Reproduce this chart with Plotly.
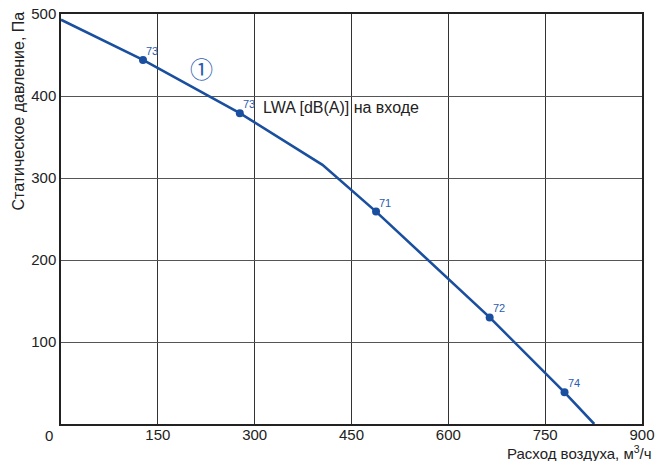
import plotly.graph_objects as go

# Curve vertices (airflow m3/h, static pressure Pa)
curve_x = [0, 127, 277, 405, 488, 664, 780, 826]
curve_y = [493, 444, 379, 316, 259, 130, 38.6, 0]

# Marked operating points with LWA labels
pt_x = [127, 277, 488, 664, 780]
pt_y = [444, 379, 259, 130, 38.6]
pt_lbl = ["73", "73", "71", "72", "74"]

x_ticks = [150, 300, 450, 600, 750, 900]
y_ticks = [100, 200, 300, 400, 500]

BLUE = "#1a4f9f"
FONT = "Liberation Sans, Arial, sans-serif"

fig = go.Figure()
fig.add_trace(go.Scatter(x=curve_x, y=curve_y, mode="lines",
                         line=dict(color=BLUE, width=2.6), hoverinfo="skip"))
fig.add_trace(go.Scatter(x=pt_x, y=pt_y, mode="markers",
                         marker=dict(color=BLUE, size=8),
                         hoverinfo="skip"))

annos = [
    dict(x=0, y=0, xref="paper", yref="paper", text="0", showarrow=False,
         xanchor="right", yanchor="top", xshift=-6, yshift=-1,
         font=dict(size=15, family=FONT, color="#222")),
    dict(x=1, y=0, xref="paper", yref="paper", text="Расход воздуха, м<sup>3</sup>/ч",
         showarrow=False, xanchor="right", yanchor="top", xshift=12, yshift=-17,
         font=dict(size=15, family=FONT, color="#222")),
    dict(x=0, y=1, xref="paper", yref="paper", text="Статическое давление, Па",
         showarrow=False, textangle=-90, xanchor="center", yanchor="top",
         xshift=-43, yshift=4,
         font=dict(size=16, family=FONT, color="#222")),
    dict(x=310, y=386, xref="x", yref="y", text="LWA [dB(A)] на входе",
         showarrow=False, xanchor="left", yanchor="middle",
         font=dict(size=16, family=FONT, color="#222")),
    dict(x=218, y=434, xref="x", yref="y", text="①",
         showarrow=False, xanchor="center", yanchor="middle",
         font=dict(size=23, family="Noto Sans CJK JP", color="#2a5db0")),
]
for px, py, lb in zip(pt_x, pt_y, pt_lbl):
    annos.append(dict(x=px, y=py, xref="x", yref="y", text=lb, showarrow=False,
                      xanchor="left", yanchor="bottom", xshift=1, yshift=1,
                      font=dict(size=11, family=FONT, color="#2a5db0")))

fig.update_layout(
    width=657, height=461,
    margin=dict(l=61, r=15, t=14, b=37),
    plot_bgcolor="white", paper_bgcolor="white",
    showlegend=False,
    font=dict(family=FONT, size=15, color="#222"),
    xaxis=dict(range=[0, 900], tickvals=x_ticks, ticktext=[str(v) for v in x_ticks],
               showgrid=True, gridcolor="#333", gridwidth=1,
               showline=True, linecolor="#222", linewidth=1.5, mirror=True,
               ticks="", zeroline=False, fixedrange=True, automargin=False,
               ticklabelstandoff=-4),
    yaxis=dict(range=[0, 500], tickvals=y_ticks, ticktext=[str(v) for v in y_ticks],
               showgrid=True, gridcolor="#555", gridwidth=1,
               showline=True, linecolor="#222", linewidth=1.5, mirror=True,
               ticks="", zeroline=False, fixedrange=True, automargin=False),
    annotations=annos,
)

fig.write_html("out.html", config={"displayModeBar": False},
               post_script="document.body.style.margin='0';document.body.style.padding='0';document.body.style.overflow='hidden';")
